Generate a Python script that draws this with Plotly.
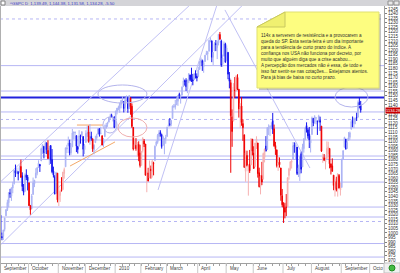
import plotly.graph_objects as go
import pandas as pd

# ---------------- DATA (S&P 500 daily) ----------------
holidays = ["2009-09-07", "2009-11-26", "2009-12-25", "2010-01-01", "2010-01-18",
            "2010-02-15", "2010-04-02", "2010-05-31", "2010-07-05", "2010-09-06"]

opens = [
 1019.52, 996.07, 996.12, 1003.84, 1018.67, 1025.36, 1032.99, 1043.92, 1040.15, 1049.03, 1053.99, 1067.87, 1066.60, 1067.14, 1066.35, 1072.69, 1062.56, 1049.48, 1045.38, 1063.69, 1061.02,
 1054.91, 1029.71, 1026.87, 1042.02, 1053.65, 1060.03, 1065.28, 1071.63, 1074.96, 1078.68, 1090.36, 1094.67, 1088.22, 1098.64, 1090.36, 1080.96, 1095.62, 1080.36, 1067.54, 1061.51, 1043.19, 1065.41,
 1036.18, 1040.92, 1047.30, 1047.30, 1064.95, 1072.31, 1091.86, 1096.04, 1098.31, 1087.59, 1094.13, 1109.22, 1109.44, 1106.44, 1094.66, 1094.86, 1105.83, 1106.49, 1105.47, 1091.07,
 1098.89, 1109.03, 1110.59, 1100.34, 1105.52, 1103.04, 1091.07, 1098.69, 1103.96, 1107.84, 1114.11, 1108.61, 1106.36, 1097.86, 1105.31, 1114.51, 1118.84, 1121.08, 1127.53, 1128.55, 1125.53, 1126.60,
 1116.56, 1132.66, 1135.71, 1136.27, 1140.52, 1145.96, 1143.81, 1137.31, 1145.68, 1147.72, 1136.03, 1147.95, 1138.68, 1115.49, 1092.40, 1095.80, 1091.94, 1096.93, 1087.61,
 1073.89, 1090.05, 1100.67, 1097.25, 1064.12, 1065.51, 1060.06, 1069.68, 1067.10, 1075.95, 1079.13, 1096.14, 1099.03, 1105.49, 1110.00, 1107.49, 1095.89, 1101.24, 1103.10,
 1105.36, 1117.01, 1119.36, 1119.12, 1125.12, 1138.40, 1137.56, 1140.22, 1143.96, 1151.71, 1148.53, 1150.83, 1159.94, 1166.13, 1166.68, 1157.25, 1166.47, 1172.70, 1170.03, 1167.58, 1167.71, 1173.75, 1171.75,
 1171.23, 1178.71, 1186.01, 1188.23, 1181.75, 1187.47, 1194.94, 1195.94, 1198.69, 1210.77, 1210.17, 1192.06, 1199.04, 1207.16, 1202.52, 1207.87, 1217.07, 1209.92, 1184.59, 1193.30, 1206.77,
 1188.58, 1197.50, 1169.24, 1164.38, 1127.04, 1122.27, 1156.39, 1155.43, 1170.04, 1157.19, 1136.52, 1138.78, 1119.57, 1107.34, 1067.26, 1084.78, 1067.42, 1075.51, 1074.27, 1102.59,
 1087.30, 1073.01, 1098.82, 1098.43, 1065.84, 1050.81, 1062.75, 1058.77, 1082.65, 1095.00, 1091.21, 1114.02, 1115.98, 1116.16, 1122.79, 1113.90, 1095.57, 1090.93, 1074.10, 1077.50, 1071.10, 1040.56,
 1031.10, 1027.65, 1028.09, 1028.54, 1062.92, 1070.50, 1077.23, 1080.65, 1095.61, 1094.46, 1093.85, 1066.85, 1064.53, 1086.67, 1072.14, 1092.17, 1102.89, 1117.36, 1112.84, 1108.07, 1098.44,
 1107.53, 1125.34, 1121.06, 1125.78, 1122.07, 1122.80, 1122.92, 1116.89, 1081.48, 1082.22, 1077.49, 1081.16, 1092.08, 1092.44, 1075.63, 1073.36, 1063.20, 1048.98, 1056.28, 1049.27, 1062.90, 1046.88,
 1049.72, 1080.66, 1093.61, 1102.60, 1092.36, 1101.15, 1104.57, 1113.38, 1121.16, 1119.43, 1123.89, 1126.39, 1126.57, 1142.82, 1139.49,
]
highs = [
 1028.45, 1000.34, 1003.43, 1016.48, 1026.07, 1036.34, 1044.14, 1048.18, 1049.74, 1056.04, 1068.76, 1074.77, 1071.52, 1067.28, 1073.81, 1080.15, 1066.29, 1053.47, 1065.13, 1069.62, 1063.40,
 1054.91, 1030.60, 1042.58, 1060.55, 1058.02, 1070.67, 1071.51, 1079.46, 1075.30, 1093.17, 1096.56, 1094.67, 1100.17, 1098.64, 1101.36, 1095.21, 1095.83, 1091.75, 1072.48, 1063.26, 1066.83, 1065.41,
 1052.18, 1046.36, 1061.00, 1066.65, 1071.48, 1093.19, 1096.42, 1105.37, 1101.97, 1097.79, 1113.69, 1110.52, 1111.10, 1106.44, 1094.66, 1112.38, 1107.56, 1111.18, 1105.47, 1097.24,
 1112.28, 1117.24, 1117.28, 1119.13, 1110.72, 1103.04, 1097.04, 1106.25, 1108.50, 1114.76, 1114.11, 1116.21, 1106.36, 1103.74, 1118.47, 1120.27, 1121.58, 1126.48, 1130.38, 1130.38, 1126.42, 1127.64,
 1133.87, 1136.63, 1139.19, 1142.46, 1145.39, 1149.74, 1143.81, 1148.40, 1150.41, 1147.77, 1150.45, 1147.95, 1141.58, 1115.49, 1102.97, 1103.69, 1099.51, 1100.22, 1096.45,
 1089.38, 1104.73, 1102.72, 1097.25, 1067.13, 1071.20, 1079.28, 1073.67, 1080.04, 1077.81, 1095.67, 1101.03, 1108.24, 1112.42, 1112.29, 1108.58, 1106.42, 1103.50, 1107.24,
 1116.11, 1123.46, 1125.64, 1123.73, 1139.38, 1141.05, 1145.37, 1148.26, 1150.24, 1153.41, 1150.98, 1160.28, 1169.84, 1167.77, 1169.20, 1167.82, 1174.72, 1173.04, 1180.69, 1173.93, 1174.85, 1177.83, 1174.56,
 1181.43, 1187.73, 1191.80, 1189.60, 1188.55, 1194.66, 1199.20, 1199.04, 1210.65, 1213.92, 1210.17, 1197.87, 1208.58, 1210.99, 1210.27, 1217.28, 1219.80, 1211.38, 1195.05, 1209.36, 1207.99,
 1205.13, 1197.50, 1175.95, 1167.58, 1135.13, 1163.85, 1170.48, 1172.58, 1173.57, 1157.19, 1141.88, 1148.66, 1124.27, 1107.34, 1090.16, 1089.95, 1074.75, 1090.75, 1103.52, 1102.59,
 1094.77, 1098.56, 1105.67, 1098.43, 1071.36, 1063.15, 1077.74, 1087.85, 1092.25, 1105.91, 1115.59, 1118.74, 1117.72, 1121.01, 1131.23, 1118.50, 1099.64, 1090.93, 1083.11, 1082.60, 1071.10, 1048.08,
 1033.58, 1032.95, 1042.50, 1060.89, 1071.25, 1078.16, 1080.78, 1099.46, 1099.08, 1098.66, 1093.85, 1074.70, 1083.94, 1088.96, 1097.50, 1103.73, 1115.01, 1120.95, 1114.66, 1115.90, 1106.44,
 1127.30, 1125.44, 1128.75, 1126.56, 1123.06, 1129.24, 1127.16, 1116.89, 1086.72, 1086.25, 1082.62, 1100.14, 1099.77, 1092.44, 1075.63, 1081.58, 1063.20, 1059.38, 1061.45, 1065.21, 1064.40, 1055.14,
 1081.30, 1090.10, 1105.10, 1102.60, 1103.26, 1110.27, 1110.88, 1123.87, 1127.36, 1126.46, 1125.44, 1131.47, 1144.86, 1148.59, 1144.38,
]
lows = [
 996.28, 991.97, 992.25, 1001.65, 1018.67, 1023.97, 1028.04, 1038.40, 1035.00, 1043.42, 1052.87, 1061.20, 1064.27, 1057.46, 1066.35, 1060.39, 1045.85, 1041.17, 1045.38, 1057.83, 1046.47,
 1029.45, 1019.95, 1025.92, 1042.02, 1050.10, 1060.03, 1063.00, 1071.63, 1066.71, 1078.68, 1086.41, 1081.53, 1086.48, 1086.16, 1080.77, 1074.31, 1075.49, 1065.23, 1060.62, 1042.19, 1043.19, 1033.38,
 1029.38, 1033.94, 1045.15, 1047.30, 1059.32, 1072.31, 1087.40, 1094.74, 1084.90, 1085.33, 1094.13, 1102.19, 1102.70, 1088.40, 1086.81, 1094.86, 1097.63, 1104.75, 1083.74, 1086.25,
 1098.89, 1105.10, 1098.74, 1096.52, 1100.83, 1088.61, 1085.89, 1098.69, 1101.34, 1107.84, 1105.35, 1107.96, 1095.88, 1093.88, 1105.31, 1114.51, 1116.00, 1121.08, 1123.51, 1126.08, 1121.94, 1114.81,
 1116.56, 1129.66, 1133.95, 1131.32, 1136.22, 1142.02, 1131.77, 1133.18, 1143.80, 1131.39, 1135.77, 1129.25, 1114.84, 1090.18, 1092.40, 1089.86, 1083.11, 1078.46, 1071.59,
 1073.89, 1087.96, 1093.97, 1062.78, 1044.50, 1056.51, 1060.06, 1059.34, 1060.59, 1062.97, 1079.13, 1094.72, 1097.48, 1100.80, 1105.38, 1092.18, 1095.50, 1086.02, 1097.56,
 1105.36, 1116.51, 1116.58, 1116.66, 1125.12, 1136.77, 1134.90, 1140.09, 1138.99, 1146.97, 1141.45, 1150.35, 1159.94, 1161.16, 1155.33, 1152.88, 1163.83, 1166.01, 1165.09, 1161.48, 1167.71, 1168.92, 1165.77,
 1170.69, 1178.71, 1182.77, 1177.25, 1175.12, 1187.15, 1194.71, 1188.82, 1198.69, 1208.50, 1186.77, 1183.68, 1199.04, 1198.85, 1190.19, 1205.10, 1211.07, 1181.62, 1181.81, 1193.30, 1186.32,
 1188.58, 1168.12, 1158.15, 1065.79, 1094.15, 1122.27, 1147.71, 1155.43, 1156.14, 1126.14, 1114.96, 1117.20, 1100.66, 1071.58, 1055.90, 1072.70, 1040.78, 1065.59, 1074.27, 1084.78,
 1069.89, 1072.03, 1091.81, 1060.50, 1049.86, 1042.17, 1052.25, 1058.77, 1077.12, 1089.03, 1091.21, 1107.13, 1105.87, 1113.93, 1108.24, 1094.18, 1085.31, 1071.60, 1067.89, 1071.45, 1035.18, 1028.33,
 1010.91, 1015.93, 1018.35, 1028.54, 1058.24, 1068.10, 1070.45, 1080.65, 1087.68, 1080.53, 1063.32, 1061.11, 1056.88, 1065.25, 1072.14, 1087.88, 1101.30, 1109.78, 1103.11, 1092.82, 1088.01,
 1107.53, 1116.76, 1119.46, 1118.81, 1107.17, 1120.91, 1111.58, 1088.55, 1076.69, 1079.00, 1069.49, 1081.16, 1085.76, 1070.66, 1063.91, 1067.08, 1046.68, 1039.83, 1045.40, 1039.70, 1048.79, 1040.88,
 1049.72, 1080.39, 1093.61, 1091.15, 1092.36, 1101.15, 1101.91, 1113.38, 1115.58, 1114.63, 1118.88, 1122.43, 1126.57, 1136.22, 1131.58,
]
closes = [
 998.04, 994.75, 1003.24, 1016.40, 1025.39, 1033.37, 1044.14, 1042.73, 1049.34, 1052.63, 1068.76, 1065.49, 1068.30, 1064.66, 1071.66, 1060.87, 1050.78, 1044.38, 1062.98, 1060.61, 1057.08,
 1029.85, 1025.21, 1040.46, 1054.72, 1057.58, 1065.48, 1071.49, 1076.19, 1073.19, 1092.02, 1096.56, 1087.68, 1097.91, 1091.06, 1081.40, 1092.91, 1079.60, 1066.95, 1063.41, 1042.63, 1066.11, 1036.19,
 1042.88, 1045.41, 1046.50, 1066.63, 1069.30, 1093.08, 1093.01, 1098.51, 1087.24, 1093.48, 1109.30, 1110.32, 1109.80, 1094.90, 1091.38, 1106.24, 1105.65, 1110.63, 1091.49, 1095.63,
 1108.86, 1109.24, 1099.92, 1105.98, 1103.25, 1091.94, 1095.95, 1102.35, 1106.41, 1114.11, 1107.93, 1109.18, 1096.08, 1102.47, 1114.05, 1118.02, 1120.59, 1126.48, 1127.78, 1126.20, 1126.42, 1115.10,
 1132.99, 1136.52, 1137.14, 1141.69, 1144.98, 1146.98, 1136.22, 1145.68, 1148.46, 1136.03, 1150.23, 1138.04, 1116.48, 1091.76, 1096.78, 1092.17, 1097.50, 1084.53, 1073.87,
 1089.19, 1103.32, 1097.28, 1063.11, 1066.19, 1056.74, 1070.52, 1068.13, 1078.47, 1075.51, 1094.87, 1099.51, 1106.75, 1109.17, 1108.01, 1094.60, 1105.24, 1102.94, 1104.49,
 1115.71, 1118.31, 1118.79, 1122.97, 1138.70, 1138.50, 1140.45, 1145.61, 1150.24, 1149.99, 1150.51, 1159.46, 1166.21, 1165.83, 1159.90, 1165.81, 1174.17, 1167.72, 1165.73, 1166.59, 1173.22, 1173.27, 1169.43,
 1178.10, 1187.44, 1189.44, 1182.45, 1186.44, 1194.37, 1196.48, 1197.30, 1210.65, 1211.67, 1192.13, 1197.52, 1207.17, 1205.94, 1208.67, 1217.28, 1212.05, 1183.71, 1191.36, 1206.78, 1186.69,
 1202.26, 1173.60, 1165.87, 1128.15, 1110.88, 1159.73, 1155.79, 1171.67, 1157.44, 1135.68, 1136.94, 1120.80, 1115.05, 1071.59, 1087.69, 1073.65, 1074.03, 1067.95, 1103.06, 1089.41,
 1070.71, 1098.38, 1102.83, 1064.88, 1050.47, 1062.00, 1055.69, 1086.84, 1091.60, 1089.63, 1115.23, 1114.61, 1116.04, 1117.51, 1113.20, 1095.31, 1092.04, 1073.69, 1076.76, 1074.57, 1041.24, 1030.71,
 1027.37, 1022.58, 1028.06, 1060.27, 1070.25, 1077.96, 1078.75, 1095.34, 1095.17, 1096.48, 1064.88, 1071.25, 1083.48, 1069.59, 1093.67, 1102.66, 1115.01, 1113.84, 1106.13, 1101.53, 1101.60,
 1125.86, 1120.46, 1127.24, 1125.81, 1121.64, 1127.79, 1121.06, 1089.47, 1083.61, 1079.25, 1079.38, 1092.54, 1094.16, 1075.63, 1071.69, 1067.36, 1051.87, 1055.33, 1047.22, 1064.59, 1048.92, 1049.33,
 1080.29, 1090.10, 1104.51, 1091.84, 1098.87, 1104.18, 1109.55, 1121.90, 1121.10, 1125.07, 1124.66, 1125.59, 1142.71, 1139.78, 1134.28,
]

month_labels = ["September", "October", "November", "December", "2010", "February", "March",
                "April", "May", "June", "July", "August", "September", "Octo"]
y_tick_labels = [str(v) for v in range(970, 1250, 5)]

# horizontal support / resistance levels drawn on the chart
levels_solid = [1183.0, 1155.2, 1132.3, 1114.8, 1101.6, 1084.1, 1080.3, 1055.6, 1028.3, 1017.4, 988.4, 973.6]
levels_dotted = [1234.0, 1124.1, 1012.5]
level_thick = 1148.0
last_price_label = "1134.28"
title_text = "^GSPC D  1,139.49, 1,144.38, 1,131.58, 1,134.28, -5.50"

note_lines = [
    "114x a serverem de resistência e a provocarem a",
    "queda do SP. Esta sexta-feira é um dia importante",
    "para a tendência de curto prazo do índice. A",
    "confiança nos USA não funciona por decreto, por",
    "muito que alguém diga que a crise acabou...",
    "A percepção dos mercados não é essa, de todo e",
    "isso faz sentir-se nas cotações... Estejamos atentos.",
    "Para já bias de baixa no curto prazo.",
]

# ---------------- STYLE / LAYOUT ----------------
W, H = 400, 273
PL, PR, PT, PB = 0, 384, 6, 263            # plot area in pixels
X_RANGE = [-0.44, 283.2]
Y_RANGE = [967.1, 1248.2]
FONT = "Liberation Sans, Arial, sans-serif"

red_ranges = [("2009-09-23", "2009-09-23"), ("2009-10-01", "2009-10-02"), ("2009-10-21", "2009-10-21"),
              ("2009-10-30", "2009-11-06"), ("2009-12-03", "2009-12-03"), ("2009-12-08", "2009-12-08"),
              ("2009-12-17", "2009-12-17"), ("2010-01-20", "2010-02-12"), ("2010-04-26", "2010-04-26"),
              ("2010-05-06", "2010-06-11"), ("2010-06-22", "2010-07-12"), ("2010-08-11", "2010-08-31")]


def px_x(p):
    return (p - PL) / (PR - PL)


def px_y(p):
    return (PB - p) / (PB - PT)


n = min(len(opens), len(highs), len(lows), len(closes))
cal = pd.bdate_range("2009-09-01", "2010-10-29")
cal = cal[~cal.isin(pd.to_datetime(holidays))]
dates = cal[:n]
idx = list(range(n))

is_red = []
for d in dates:
    r = False
    for a, b in red_ranges:
        if pd.Timestamp(a) <= d <= pd.Timestamp(b):
            r = True
    is_red.append(r)

fig = go.Figure()


def add_candles(sel, up_line, up_fill, dn_color):
    fig.add_trace(go.Candlestick(
        x=[i for i in sel], open=[opens[i] for i in sel], high=[highs[i] for i in sel],
        low=[lows[i] for i in sel], close=[closes[i] for i in sel],
        increasing=dict(line=dict(color=up_line, width=1), fillcolor=up_fill),
        decreasing=dict(line=dict(color=dn_color, width=1), fillcolor=dn_color),
        whiskerwidth=0, showlegend=False, hoverinfo="skip"))


add_candles([i for i in idx if not is_red[i]], "#aab2f4", "#dadefc", "#1414ee")
add_candles([i for i in idx if is_red[i]], "#f6b0b0", "#fcdada", "#f00000")

shapes = []
LINE_C = "#b6b6f4"
for v in levels_solid:
    shapes.append(dict(type="line", xref="paper", yref="y", x0=0, x1=1, y0=v, y1=v,
                       line=dict(color=LINE_C, width=1), layer="below"))
for v in levels_dotted:
    shapes.append(dict(type="line", xref="paper", yref="y", x0=0, x1=1, y0=v, y1=v,
                       line=dict(color=LINE_C, width=1, dash="dot"), layer="below"))
shapes.append(dict(type="line", xref="paper", yref="y", x0=0, x1=1, y0=level_thick, y1=level_thick,
                   line=dict(color="#2222dd", width=2), layer="below"))

# trend lines (index, price)
trend_lines = [((0, 1056), (140, 1249.5)), ((0, 987), (179, 1249.5)),
               ((116.3, 1047), (159.8, 1249.3)), ((165.7, 1243.9), (228.5, 1071.0))]
for (xa, ya), (xb, yb) in trend_lines:
    shapes.append(dict(type="line", xref="x", yref="y", x0=xa, y0=ya, x1=xb, y1=yb,
                       line=dict(color="#c0c0f4", width=1), layer="below"))
orange_lines = [((56.4, 1118.0), (75.6, 1118.0)), ((51.3, 1073.2), (84.5, 1099.5))]
for (xa, ya), (xb, yb) in orange_lines:
    shapes.append(dict(type="line", xref="x", yref="y", x0=xa, y0=ya, x1=xb, y1=yb,
                       line=dict(color="#f4a868", width=1), layer="below"))
ellipses = [((71.9, 1142.1), (108.1, 1161.8), "#b4b4ec"), ((75.6, 1109.3), (86.0, 1126.8), "#b4b4ec"),
            ((86.7, 1104.9), (108.1, 1125.7), "#f0b0b0"), ((247.0, 1137.7), (271.4, 1159.6), "#b4b4ec")]
for (xa, ya), (xb, yb), c in ellipses:
    shapes.append(dict(type="circle", xref="x", yref="y", x0=xa, y0=ya, x1=xb, y1=yb,
                       line=dict(color=c, width=1)))

# sticky note
def path(pts):
    return "M " + " L ".join(f"{px_x(a):.5f},{px_y(b):.5f}" for a, b in pts) + " Z"

shapes.append(dict(type="path", xref="paper", yref="paper",
                   path=path([(259, 29), (287, 14), (381, 14), (381, 90), (259, 90)]),
                   fillcolor="rgba(120,120,120,0.45)", line=dict(width=0)))
shapes.append(dict(type="path", xref="paper", yref="paper",
                   path=path([(257, 27), (285, 12), (379, 12), (379, 88), (257, 88)]),
                   fillcolor="#fdfd80", line=dict(color="#e0e070", width=1)))
shapes.append(dict(type="path", xref="paper", yref="paper",
                   path=path([(257, 27), (285, 12), (285, 27)]),
                   fillcolor="#f0f070", line=dict(color="#c8c860", width=1)))

# title bar
shapes.append(dict(type="rect", xref="paper", yref="paper", x0=px_x(0), x1=px_x(400), y0=px_y(6), y1=px_y(0),
                   fillcolor="#d4d4d8", line=dict(width=0)))
shapes.append(dict(type="rect", xref="paper", yref="paper", x0=px_x(1), x1=px_x(5), y0=px_y(5), y1=px_y(1),
                   fillcolor="white", line=dict(color="#808080", width=1)))
for bx in (388, 394):
    shapes.append(dict(type="rect", xref="paper", yref="paper", x0=px_x(bx), x1=px_x(bx + 5),
                       y0=px_y(5), y1=px_y(1), fillcolor="#e8e8e8", line=dict(color="#909090", width=1)))
# left border
shapes.append(dict(type="line", xref="paper", yref="paper", x0=px_x(0.5), x1=px_x(0.5), y0=px_y(273), y1=px_y(6),
                   line=dict(color="#b0b0b0", width=1)))
# bottom-right corner icon
shapes.append(dict(type="rect", xref="paper", yref="paper", x0=px_x(384), x1=px_x(400), y0=px_y(273), y1=px_y(263),
                   fillcolor="#f0f0f0", line=dict(color="#c0c0c0", width=1)))
shapes.append(dict(type="circle", xref="paper", yref="paper", x0=px_x(389), x1=px_x(395), y0=px_y(271), y1=px_y(265),
                   fillcolor="#44bb44", line=dict(color="#228822", width=1)))

# month separators + labels
month_starts = [0]
for i in range(1, len(cal)):
    if cal[i].month != cal[i - 1].month:
        month_starts.append(i)
annotations = []
for k, lab in enumerate(month_labels):
    if k >= len(month_starts):
        break
    ms = month_starts[k]
    if ms > 0:
        shapes.append(dict(type="line", xref="x", yref="paper", x0=ms - 0.4, x1=ms - 0.4,
                           y0=px_y(263), y1=px_y(273), line=dict(color="#c8c8c8", width=1)))
    annotations.append(dict(x=ms + 0.9, y=px_y(268), xref="x", yref="paper", text=lab, showarrow=False,
                            xanchor="left", yanchor="middle", font=dict(family=FONT, size=4.6, color="#404040")))

week_ticks = [i for i in range(1, n) if dates[i].weekday() < dates[i - 1].weekday()]

# y tick labels: the one hidden under the last-price flag is left out
last_val = float(last_price_label)
y_vals = [float(t) for t in y_tick_labels if abs(float(t) - last_val) > 2.6]
y_text = [t for t in y_tick_labels if abs(float(t) - last_val) > 2.6]

annotations.append(dict(x=px_x(259), y=px_y(31), xref="paper", yref="paper", text="<br>".join(note_lines),
                        showarrow=False, xanchor="left", yanchor="top", align="left",
                        font=dict(family=FONT, size=4.6, color="#303030")))
annotations.append(dict(x=px_x(8), y=px_y(3), xref="paper", yref="paper", text=title_text, showarrow=False,
                        xanchor="left", yanchor="middle", font=dict(family=FONT, size=4.2, color="#3838c8")))
annotations.append(dict(x=1.0, y=last_val, xref="paper", yref="y", text=last_price_label,
                        showarrow=False, xanchor="left", yanchor="middle", bgcolor="#c80000", borderpad=0,
                        xshift=1, font=dict(family=FONT, size=4.0, color="white")))

fig.update_layout(
    width=W, height=H, margin=dict(l=PL, r=W - PR, t=PT, b=H - PB, pad=0),
    paper_bgcolor="white", plot_bgcolor="white", showlegend=False,
    shapes=shapes, annotations=annotations,
    xaxis=dict(range=X_RANGE, showgrid=False, zeroline=False, rangeslider=dict(visible=False),
               tickmode="array", tickvals=week_ticks, showticklabels=False, ticks="outside", ticklen=2,
               tickcolor="#a0a0a0", showline=True, linecolor="#a0a0a0", linewidth=1),
    yaxis=dict(range=Y_RANGE, side="right", showgrid=False, zeroline=False, tickmode="array",
               tickvals=y_vals, ticktext=y_text, ticks="outside", ticklen=2, tickcolor="#808080",
               tickfont=dict(family=FONT, size=4.6, color="#303030"),
               showline=True, linecolor="#a0a0a0", linewidth=1),
)

fig.write_html("out.html")
